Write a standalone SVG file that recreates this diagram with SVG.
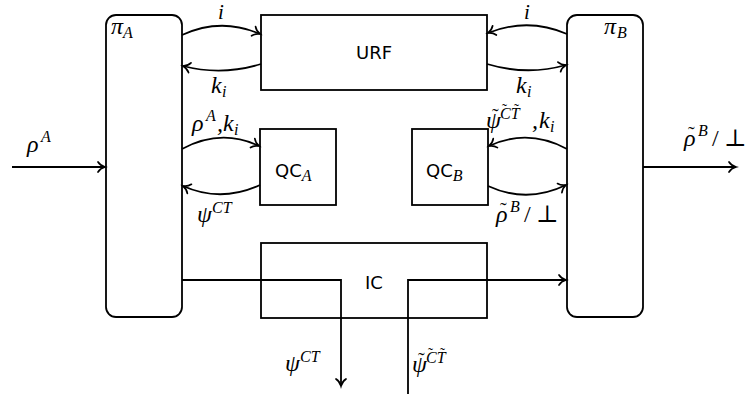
<svg xmlns="http://www.w3.org/2000/svg" width="754" height="394" viewBox="0 0 754 394">
<style>
.box{fill:none;stroke:#000;stroke-width:1.8}
.c{fill:none;stroke:#000;stroke-width:1.8}
.a{marker-end:url(#ar)}
.lbl{font-family:"DejaVu Sans",sans-serif;font-size:18px;fill:#000}
.m{font-family:"Liberation Serif","DejaVu Serif",serif;font-style:italic;font-size:24px;fill:#000}
.s{font-size:16px}
.n{font-style:normal}
.t{font-style:normal;font-size:20px}
.ts{font-style:normal;font-size:15px}
</style>
<defs>
<marker id="ar" markerUnits="userSpaceOnUse" markerWidth="14" markerHeight="14" viewBox="-10 -7 12 14" refX="0" refY="0" orient="auto">
<path d="M-7,-5 C-5,-1.8 -2,-0.6 0,0 C-2,0.6 -5,1.8 -7,5" fill="none" stroke="#000" stroke-width="1.7" stroke-linecap="round"/>
</marker>
</defs>
<g id="connectors">
<path class="c a" d="M182,35 Q221,17 260,34"/>
<path class="c a" d="M261,64 Q222,76 183,66"/>
<path class="c a" d="M182,149 Q221,128 259,146"/>
<path class="c a" d="M260,185 Q221,203 183,186"/>
<path class="c a" d="M567,34 Q528,17 488,33"/>
<path class="c a" d="M487,64 Q527,76 566,65"/>
<path class="c a" d="M567,149 Q528,128 489,146"/>
<path class="c a" d="M488,186 Q527,204 566,185"/>
<path class="c a" d="M12,167 H105"/>
<path class="c a" d="M643,167 H736"/>
<path class="c a" d="M182,280 H341 V386"/>
<path class="c a" d="M408,394 V280 H566"/>
</g>
<g id="labels">
<text class="m" x="218" y="19" style="font-size:21px">i</text>
<text class="m" x="211" y="93">k<tspan class="s" x="222" y="97">i</tspan></text>
<text class="m" x="524" y="19" style="font-size:21px">i</text>
<text class="m" x="516" y="93">k<tspan class="s" x="527" y="97">i</tspan></text>
<text class="m" x="27" y="152">ρ<tspan class="s" x="41" y="142">A</tspan></text>
<text class="m" x="192" y="131">ρ<tspan class="s" x="206" y="121">A</tspan><tspan x="217" y="131">,</tspan><tspan x="223" y="131">k</tspan><tspan class="s" x="234" y="135">i</tspan></text>
<text class="m" x="197" y="222">ψ<tspan class="s" x="212" y="213">CT</tspan></text>
<text class="m" x="486" y="128">ψ<tspan class="s" x="500" y="119">CT</tspan><tspan x="532" y="128">,</tspan><tspan x="539" y="128">k</tspan><tspan class="s" x="550" y="132">i</tspan><tspan class="t" x="492" y="123">˜</tspan><tspan class="ts" x="502" y="114">˜</tspan><tspan class="ts" x="514" y="114">˜</tspan></text>
<text class="m" x="496" y="222">ρ<tspan class="s" x="510" y="212">B</tspan><tspan class="n" x="524" y="222">/</tspan><tspan class="n" x="536" y="222">⊥</tspan><tspan class="t" x="500" y="217">˜</tspan></text>
<text class="m" x="684" y="146">ρ<tspan class="s" x="698" y="136">B</tspan><tspan class="n" x="712" y="146">/</tspan><tspan class="n" x="724" y="146">⊥</tspan><tspan class="t" x="688" y="141">˜</tspan></text>
<text class="m" x="285" y="371">ψ<tspan class="s" x="300" y="362">CT</tspan></text>
<text class="m" x="412" y="372">ψ<tspan class="s" x="426" y="363">CT</tspan><tspan class="t" x="418" y="367">˜</tspan><tspan class="ts" x="428" y="358">˜</tspan><tspan class="ts" x="440" y="358">˜</tspan></text>
</g>
<g id="piA">
<rect class="box" x="106" y="15" width="76" height="302" rx="10"/>
<text class="m" x="111" y="34">π<tspan class="s" x="123" y="38">A</tspan></text>
</g>
<g id="piB">
<rect class="box" x="567" y="15" width="76" height="302" rx="10"/>
<text class="m" x="604" y="34">π<tspan class="s" x="617" y="38">B</tspan></text>
</g>
<g id="URF">
<rect class="box" x="261" y="15" width="226" height="75"/>
<text class="lbl" x="374" y="59" text-anchor="middle">URF</text>
</g>
<g id="QCA">
<rect class="box" x="260" y="129" width="76" height="76"/>
<text class="lbl" x="275" y="177">QC<tspan class="m s" y="181">A</tspan></text>
</g>
<g id="QCB">
<rect class="box" x="412" y="129" width="76" height="76"/>
<text class="lbl" x="426" y="177">QC<tspan class="m s" y="181">B</tspan></text>
</g>
<g id="IC">
<rect class="box" x="261" y="243" width="226" height="75"/>
<text class="lbl" x="374" y="289" text-anchor="middle">IC</text>
</g>
</svg>
